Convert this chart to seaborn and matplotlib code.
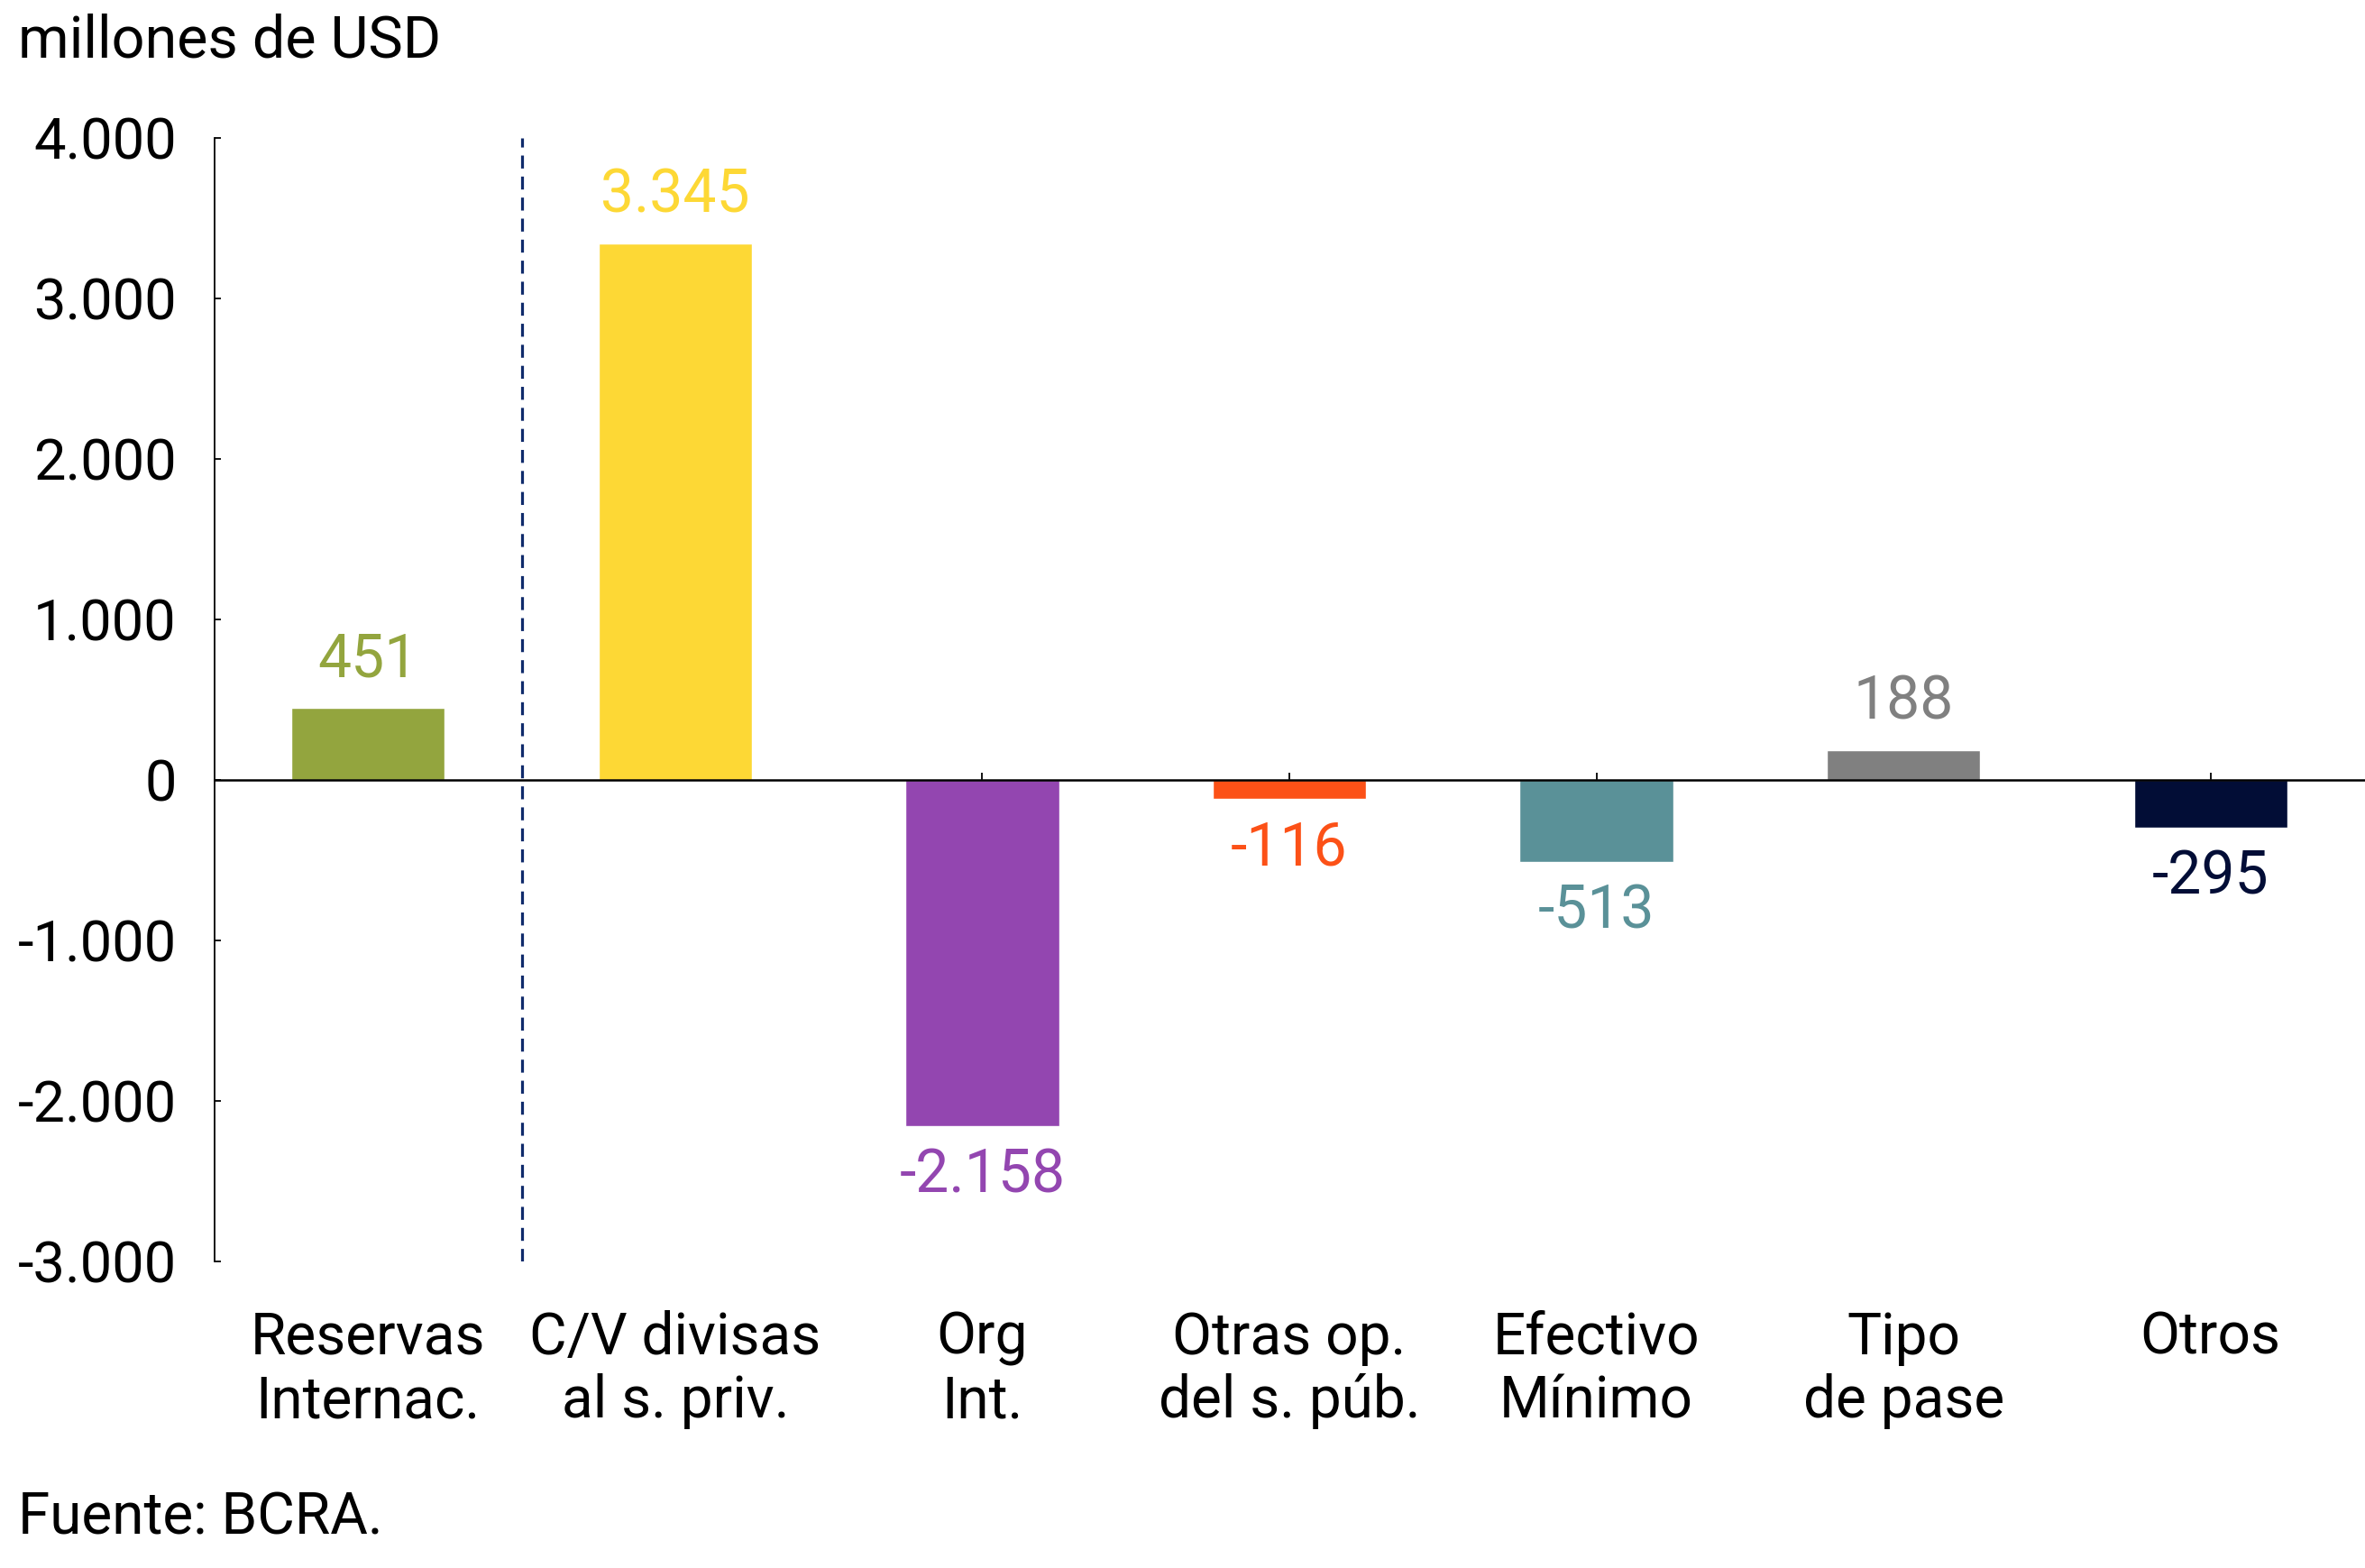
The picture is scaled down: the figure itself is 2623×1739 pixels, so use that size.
import matplotlib
matplotlib.use("Agg")
import matplotlib.pyplot as plt
import matplotlib.transforms as mtransforms
import seaborn as sns
import pandas as pd

categories = ["Reservas\nInternac.", "C/V divisas\nal s. priv.", "Org\nInt.",
              "Otras op.\ndel s. púb.", "Efectivo\nMínimo", "Tipo\nde pase", "Otros"]
values = [451, 3345, -2158, -116, -513, 188, -295]
colors = ["#93A53E", "#FDD835", "#9346B0", "#FC5117", "#5A9198", "#808080", "#020D36"]
yticks = [-3000, -2000, -1000, 0, 1000, 2000, 3000, 4000]
title = "millones de USD"
source = "Fuente: BCRA."

sns.set_theme(style="white")
plt.rcParams['font.family'] = ['Roboto', 'DejaVu Sans']

W, H = 2623, 1739
dpi = 100
fig = plt.figure(figsize=(W / dpi, H / dpi), dpi=dpi)
ax_left, ax_right = 238, 2622
ax_top, ax_bot = 153, 1399
ax = fig.add_axes([ax_left / W, 1 - ax_bot / H, (ax_right - ax_left) / W, (ax_bot - ax_top) / H])

df = pd.DataFrame({"cat": categories, "val": values})
sns.barplot(data=df, x="cat", y="val", hue="cat", palette=colors, width=0.5,
            legend=False, ax=ax, saturation=1)

ax.set_xlim(-0.5, len(categories) - 0.5)
ax.set_ylim(-3000, 4000)
ax.set_yticks(yticks)
ax.set_yticklabels([f"{t:,}".replace(",", ".") for t in yticks])
ax.set_xlabel("")
ax.set_ylabel("")
ax.set_axisbelow(True)

for s in ["top", "right"]:
    ax.spines[s].set_visible(False)
ax.spines["bottom"].set_position(("data", 0))
ax.spines["bottom"].set_linewidth(1.8)
ax.spines["bottom"].set_color("black")
ax.spines["left"].set_linewidth(1.3)
ax.spines["left"].set_color("black")

ax.tick_params(axis="y", which="major", left=True, direction="in", length=5, width=1.3,
               color="black", labelsize=45.5, pad=30.5, labelcolor="black")
ax.tick_params(axis="x", which="major", bottom=True, direction="in", length=6, width=1.3,
               color="black", labelbottom=False)

# dashed separator
ax.axvline(0.5, color="#0F2A6B", lw=2.3, ls=(0, (4.5, 2.8)), zorder=3)

# value labels
for i, (v, c) in enumerate(zip(values, colors)):
    lab = f"{v:,}".replace(",", ".")
    if v >= 0:
        ax.annotate(lab, (i, v), xytext=(0, 24.5), textcoords="offset points",
                    ha="center", va="baseline", fontsize=47.5, color=c)
    else:
        ax.annotate(lab, (i, v), xytext=(0, -17), textcoords="offset points",
                    ha="center", va="top", fontsize=47.5, color=c)

# category labels
trans = mtransforms.blended_transform_factory(ax.transData, fig.transFigure)
for i, cat in enumerate(categories):
    ax.text(i, 1 - 1453 / H, cat, transform=trans, ha="center", va="top",
            fontsize=46, color="black", linespacing=1.17)

fig.text(0.0075, 1 - 64 / H, title, ha="left", va="baseline", fontsize=46.5, color="black")
fig.text(0.0075, 1 - 1701 / H, source, ha="left", va="baseline", fontsize=46, color="black")

fig.savefig("out.png", dpi=dpi, facecolor="white")
